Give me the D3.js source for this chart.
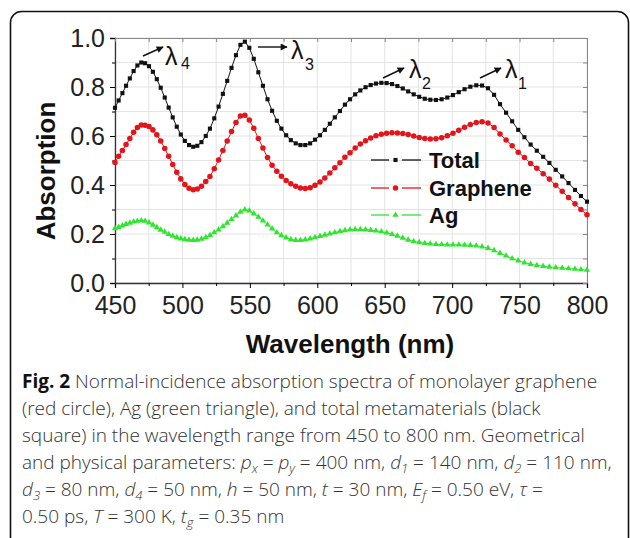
<!DOCTYPE html>
<html>
<head>
<meta charset="utf-8">
<script src="https://cdn.jsdelivr.net/npm/d3@7"></script>
<style>
  html, body { margin: 0; padding: 0; background: #fff; }
  svg { display: block; }
</style>
</head>
<body>
<svg id="chart" width="630" height="538"></svg>
<script>
// ---------------- DATA ----------------
const wavelengths = [450.0,452.7,455.5,458.2,461.0,463.8,466.6,469.5,472.3,475.2,478.1,481.0,483.9,486.9,489.8,492.8,495.8,498.8,501.8,504.9,508.0,511.0,514.1,517.3,520.4,523.6,526.8,530.0,533.2,536.4,539.7,543.0,546.3,549.6,552.9,556.3,559.7,563.1,566.5,570.0,573.4,576.9,580.4,584.0,587.5,591.1,594.7,598.3,602.0,605.6,609.3,613.0,616.8,620.5,624.3,628.1,631.9,635.8,639.6,643.5,647.5,651.4,655.4,659.4,663.4,667.4,671.5,675.6,679.7,683.8,688.0,692.2,696.4,700.6,704.9,709.2,713.5,717.9,722.2,726.6,731.1,735.5,740.0,744.5,749.0,753.6,758.2,762.8,767.5,772.1,776.8,781.6,786.3,791.1,795.5,800.0];

const totalValues = [0.715,0.745,0.775,0.805,0.835,0.865,0.888,0.900,0.897,0.885,0.862,0.832,0.797,0.757,0.716,0.676,0.638,0.606,0.580,0.563,0.556,0.560,0.575,0.600,0.630,0.672,0.720,0.772,0.825,0.878,0.930,0.972,0.985,0.960,0.915,0.860,0.805,0.750,0.703,0.662,0.630,0.603,0.583,0.570,0.563,0.563,0.570,0.585,0.603,0.625,0.650,0.676,0.702,0.728,0.750,0.770,0.786,0.799,0.808,0.814,0.817,0.816,0.812,0.804,0.794,0.782,0.770,0.760,0.752,0.748,0.747,0.750,0.757,0.767,0.779,0.791,0.801,0.807,0.806,0.795,0.768,0.730,0.695,0.660,0.625,0.595,0.565,0.540,0.515,0.490,0.462,0.435,0.408,0.380,0.355,0.332];

const grapheneValues = [0.492,0.517,0.541,0.565,0.590,0.615,0.635,0.645,0.644,0.639,0.625,0.605,0.580,0.549,0.517,0.484,0.452,0.425,0.402,0.387,0.381,0.384,0.395,0.414,0.435,0.466,0.502,0.541,0.580,0.618,0.655,0.682,0.685,0.665,0.632,0.590,0.551,0.512,0.481,0.456,0.436,0.418,0.405,0.395,0.388,0.386,0.389,0.399,0.412,0.429,0.449,0.470,0.491,0.513,0.532,0.551,0.567,0.581,0.592,0.601,0.607,0.611,0.613,0.612,0.610,0.606,0.600,0.594,0.590,0.588,0.589,0.593,0.601,0.611,0.623,0.636,0.647,0.655,0.658,0.653,0.635,0.608,0.584,0.560,0.534,0.512,0.488,0.468,0.446,0.424,0.399,0.374,0.349,0.323,0.300,0.279];

const agValues = [0.223,0.228,0.234,0.240,0.245,0.250,0.253,0.255,0.253,0.246,0.237,0.227,0.217,0.208,0.199,0.192,0.186,0.181,0.178,0.176,0.175,0.176,0.180,0.186,0.195,0.206,0.218,0.231,0.245,0.260,0.275,0.290,0.300,0.295,0.283,0.270,0.254,0.238,0.222,0.206,0.194,0.185,0.178,0.175,0.175,0.177,0.181,0.186,0.191,0.196,0.201,0.206,0.211,0.215,0.218,0.219,0.219,0.218,0.216,0.213,0.210,0.205,0.199,0.192,0.184,0.176,0.170,0.166,0.162,0.160,0.158,0.157,0.156,0.156,0.156,0.155,0.154,0.152,0.148,0.142,0.133,0.122,0.111,0.100,0.091,0.083,0.077,0.072,0.069,0.066,0.063,0.061,0.059,0.057,0.055,0.053];

const seriesNames = ["Total", "Graphene", "Ag"];
const xTickValues = [450, 500, 550, 600, 650, 700, 750, 800];
const xMinorTicks = [475, 525, 575, 625, 675, 725, 775];
const yTickValues = [0.0, 0.2, 0.4, 0.6, 0.8, 1.0];
const yMinorTicks = [0.1, 0.3, 0.5, 0.7, 0.9];
const peakLabels = ["4", "3", "2", "1"];

// ---------------- LAYOUT ----------------
const svg = d3.select("#chart");
const X0 = 115, X1 = 587, Y0 = 283, Y1 = 38;
const x = d3.scaleLinear().domain([450, 800]).range([X0, X1]);
const y = d3.scaleLinear().domain([0, 1]).range([Y0, Y1]);

// outer rounded frame
svg.append("rect")
  .attr("x", 10.5).attr("y", 11.5).attr("width", 618).attr("height", 540)
  .attr("rx", 11).attr("ry", 11)
  .attr("fill", "none").attr("stroke", "#111").attr("stroke-width", 1.6);

// grid
const gridColor = "#e3e3e3";
svg.append("g").selectAll("line").data(xTickValues.concat(xMinorTicks)).join("line")
  .attr("x1", d => x(d)).attr("x2", d => x(d)).attr("y1", Y1).attr("y2", Y0)
  .attr("stroke", gridColor).attr("stroke-width", 1);
svg.append("g").selectAll("line").data(yTickValues.concat(yMinorTicks)).join("line")
  .attr("x1", X0).attr("x2", X1).attr("y1", d => y(d)).attr("y2", d => y(d))
  .attr("stroke", gridColor).attr("stroke-width", 1);

// axes
const axisFont = "'Liberation Sans', Arial, sans-serif";
const bottomAxis = svg.append("g").attr("transform", `translate(0,${Y0})`)
  .call(d3.axisBottom(x).tickValues(xTickValues).tickFormat(d3.format("d")).tickSize(5).tickPadding(8));
bottomAxis.selectAll("text").attr("font-size", 25).attr("font-family", axisFont).attr("fill", "#222");
svg.append("g").attr("transform", `translate(0,${Y0})`)
  .call(d3.axisBottom(x).tickValues(xMinorTicks).tickFormat("").tickSize(3))
  .select(".domain").remove();

const leftAxis = svg.append("g").attr("transform", `translate(${X0},0)`)
  .call(d3.axisLeft(y).tickValues(yTickValues).tickFormat(d3.format(".1f")).tickSize(5).tickPadding(5));
leftAxis.selectAll("text").attr("font-size", 25).attr("font-family", axisFont).attr("fill", "#222");
svg.append("g").attr("transform", `translate(${X0},0)`)
  .call(d3.axisLeft(y).tickValues(yMinorTicks).tickFormat("").tickSize(3))
  .select(".domain").remove();

// top and right mirror axes (inward ticks)
const topAxis = svg.append("g").attr("transform", `translate(0,${Y1})`)
  .call(d3.axisBottom(x).tickValues(xTickValues.concat(xMinorTicks)).tickFormat("").tickSize(4).tickSizeOuter(0));
const rightAxis = svg.append("g").attr("transform", `translate(${X1},0)`)
  .call(d3.axisLeft(y).tickValues(yTickValues.concat(yMinorTicks)).tickFormat("").tickSize(4).tickSizeOuter(0));
[topAxis, rightAxis].forEach(g => {
  g.selectAll("line").attr("stroke", "#888");
  g.select(".domain").attr("stroke", "#888");
});
bottomAxis.select(".domain").attr("stroke", "#333").attr("stroke-width", 1.3);
leftAxis.select(".domain").attr("stroke", "#333").attr("stroke-width", 1.3);

// axis titles
svg.append("text")
  .attr("x", 350).attr("y", 353).attr("text-anchor", "middle")
  .attr("font-family", axisFont).attr("font-weight", "bold").attr("font-size", 26).attr("fill", "#111")
  .text("Wavelength (nm)");
svg.append("text")
  .attr("transform", "translate(55,171) rotate(-90)").attr("text-anchor", "middle")
  .attr("font-family", axisFont).attr("font-weight", "bold").attr("font-size", 26).attr("fill", "#111")
  .text("Absorption");

// ---------------- SERIES ----------------
const colors = ["#111111", "#e3151b", "#2fe62f"];
const valueSets = [totalValues, grapheneValues, agValues];
const line = d3.line().x(d => x(d[0])).y(d => y(d[1]));
const sqr = d3.symbol().type(d3.symbolSquare).size(17);
const circ = d3.symbol().type(d3.symbolCircle).size(24);
const tri = d3.symbol().type(d3.symbolTriangle).size(17);
const symbols = [sqr, circ, tri];

// draw Ag first, then graphene, then total
[2, 1, 0].forEach(i => {
  const pts = wavelengths.map((w, k) => [w, valueSets[i][k]]);
  const g = svg.append("g");
  g.append("path").attr("d", line(pts)).attr("fill", "none")
    .attr("stroke", colors[i]).attr("stroke-width", 1);
  g.selectAll("path.m").data(pts).join("path").attr("class", "m")
    .attr("transform", d => `translate(${x(d[0])},${y(d[1])})`)
    .attr("d", symbols[i]()).attr("fill", colors[i]);
});

// ---------------- LEGEND ----------------
const legendY = [160, 188, 215];
seriesNames.forEach((name, i) => {
  const g = svg.append("g");
  g.append("line").attr("x1", 371).attr("x2", 389).attr("y1", legendY[i]).attr("y2", legendY[i])
    .attr("stroke", colors[i]).attr("stroke-width", 1.3);
  g.append("line").attr("x1", 402).attr("x2", 421).attr("y1", legendY[i]).attr("y2", legendY[i])
    .attr("stroke", colors[i]).attr("stroke-width", 1.3);
  g.append("path").attr("transform", `translate(395.5,${legendY[i]})`)
    .attr("d", symbols[i]()).attr("fill", colors[i]);
  g.append("text").attr("x", 429).attr("y", legendY[i] + 8)
    .attr("font-family", axisFont).attr("font-weight", "bold").attr("font-size", 22).attr("fill", "#111")
    .text(name);
});

// ---------------- PEAK ANNOTATIONS ----------------
svg.append("defs").append("marker")
  .attr("id", "arr").attr("viewBox", "0 0 10 10").attr("refX", 9).attr("refY", 5)
  .attr("markerWidth", 9).attr("markerHeight", 7).attr("orient", "auto").attr("markerUnits", "userSpaceOnUse")
  .append("path").attr("d", "M0,0 L10,5 L0,10 z").attr("fill", "#111");

const arrowGeom = [
  {x1: 143, y1: 56, x2: 163, y2: 47, lx: 165, ly: 65, sx: 181, sy: 69},
  {x1: 258, y1: 47, x2: 287, y2: 47, lx: 291, ly: 59, sx: 305, sy: 70},
  {x1: 383, y1: 78, x2: 404, y2: 68, lx: 409, ly: 78, sx: 422, sy: 89},
  {x1: 480, y1: 78, x2: 501, y2: 68, lx: 505, ly: 78, sx: 518, sy: 89}
];
peakLabels.forEach((lab, i) => {
  const a = arrowGeom[i];
  svg.append("line").attr("x1", a.x1).attr("y1", a.y1).attr("x2", a.x2).attr("y2", a.y2)
    .attr("stroke", "#111").attr("stroke-width", 1.4).attr("marker-end", "url(#arr)");
  const t = svg.append("text").attr("font-family", axisFont).attr("fill", "#111");
  t.append("tspan").attr("x", a.lx).attr("y", a.ly).attr("font-size", 25).text("λ");
  t.append("tspan").attr("x", a.sx).attr("y", a.sy).attr("font-size", 16).text(lab);
});

// ---------------- CAPTION ----------------
const capFont = "'Open Sans', 'Noto Sans', sans-serif";
const capSize = 19;
const capX = 22;
const capLines = [
  [["b","Fig. 2"],["n"," Normal-incidence absorption spectra of monolayer graphene"]],
  [["n","(red circle), Ag (green triangle), and total metamaterials (black"]],
  [["n","square) in the wavelength range from 450 to 800 nm. Geometrical"]],
  [["n","and physical parameters: "],["i","p"],["s","x"],["n"," = "],["i","p"],["s","y"],["n"," = 400 nm, "],["i","d"],["s","1"],["n"," = 140 nm, "],["i","d"],["s","2"],["n"," = 110 nm,"]],
  [["i","d"],["s","3"],["n"," = 80 nm, "],["i","d"],["s","4"],["n"," = 50 nm, "],["i","h"],["n"," = 50 nm, "],["i","t"],["n"," = 30 nm, "],["i","E"],["s","f"],["n"," = 0.50 eV, "],["i","τ"],["n"," ="]],
  [["n","0.50 ps, "],["i","T"],["n"," = 300 K, "],["i","t"],["s","g"],["n"," = 0.35 nm"]]
];
const capY = [388, 415, 442, 469, 496, 523];
capLines.forEach((parts, li) => {
  const t = svg.append("text").attr("x", capX).attr("y", capY[li])
    .attr("font-family", capFont).attr("font-size", capSize).attr("font-weight", 300).attr("fill", "#333");
  let inSub = false;
  parts.forEach(([kind, str]) => {
    const ts = t.append("tspan").text(str);
    if (kind === "b") ts.attr("font-weight", "bold").attr("fill", "#111");
    if (kind === "i") ts.attr("font-style", "italic");
    if (kind === "s") {
      ts.attr("font-style", "italic").attr("font-size", 13).attr("dy", 4);
      inSub = true;
    } else if (inSub) {
      ts.attr("dy", -4);
      inSub = false;
    }
  });
});
</script>
</body>
</html>
